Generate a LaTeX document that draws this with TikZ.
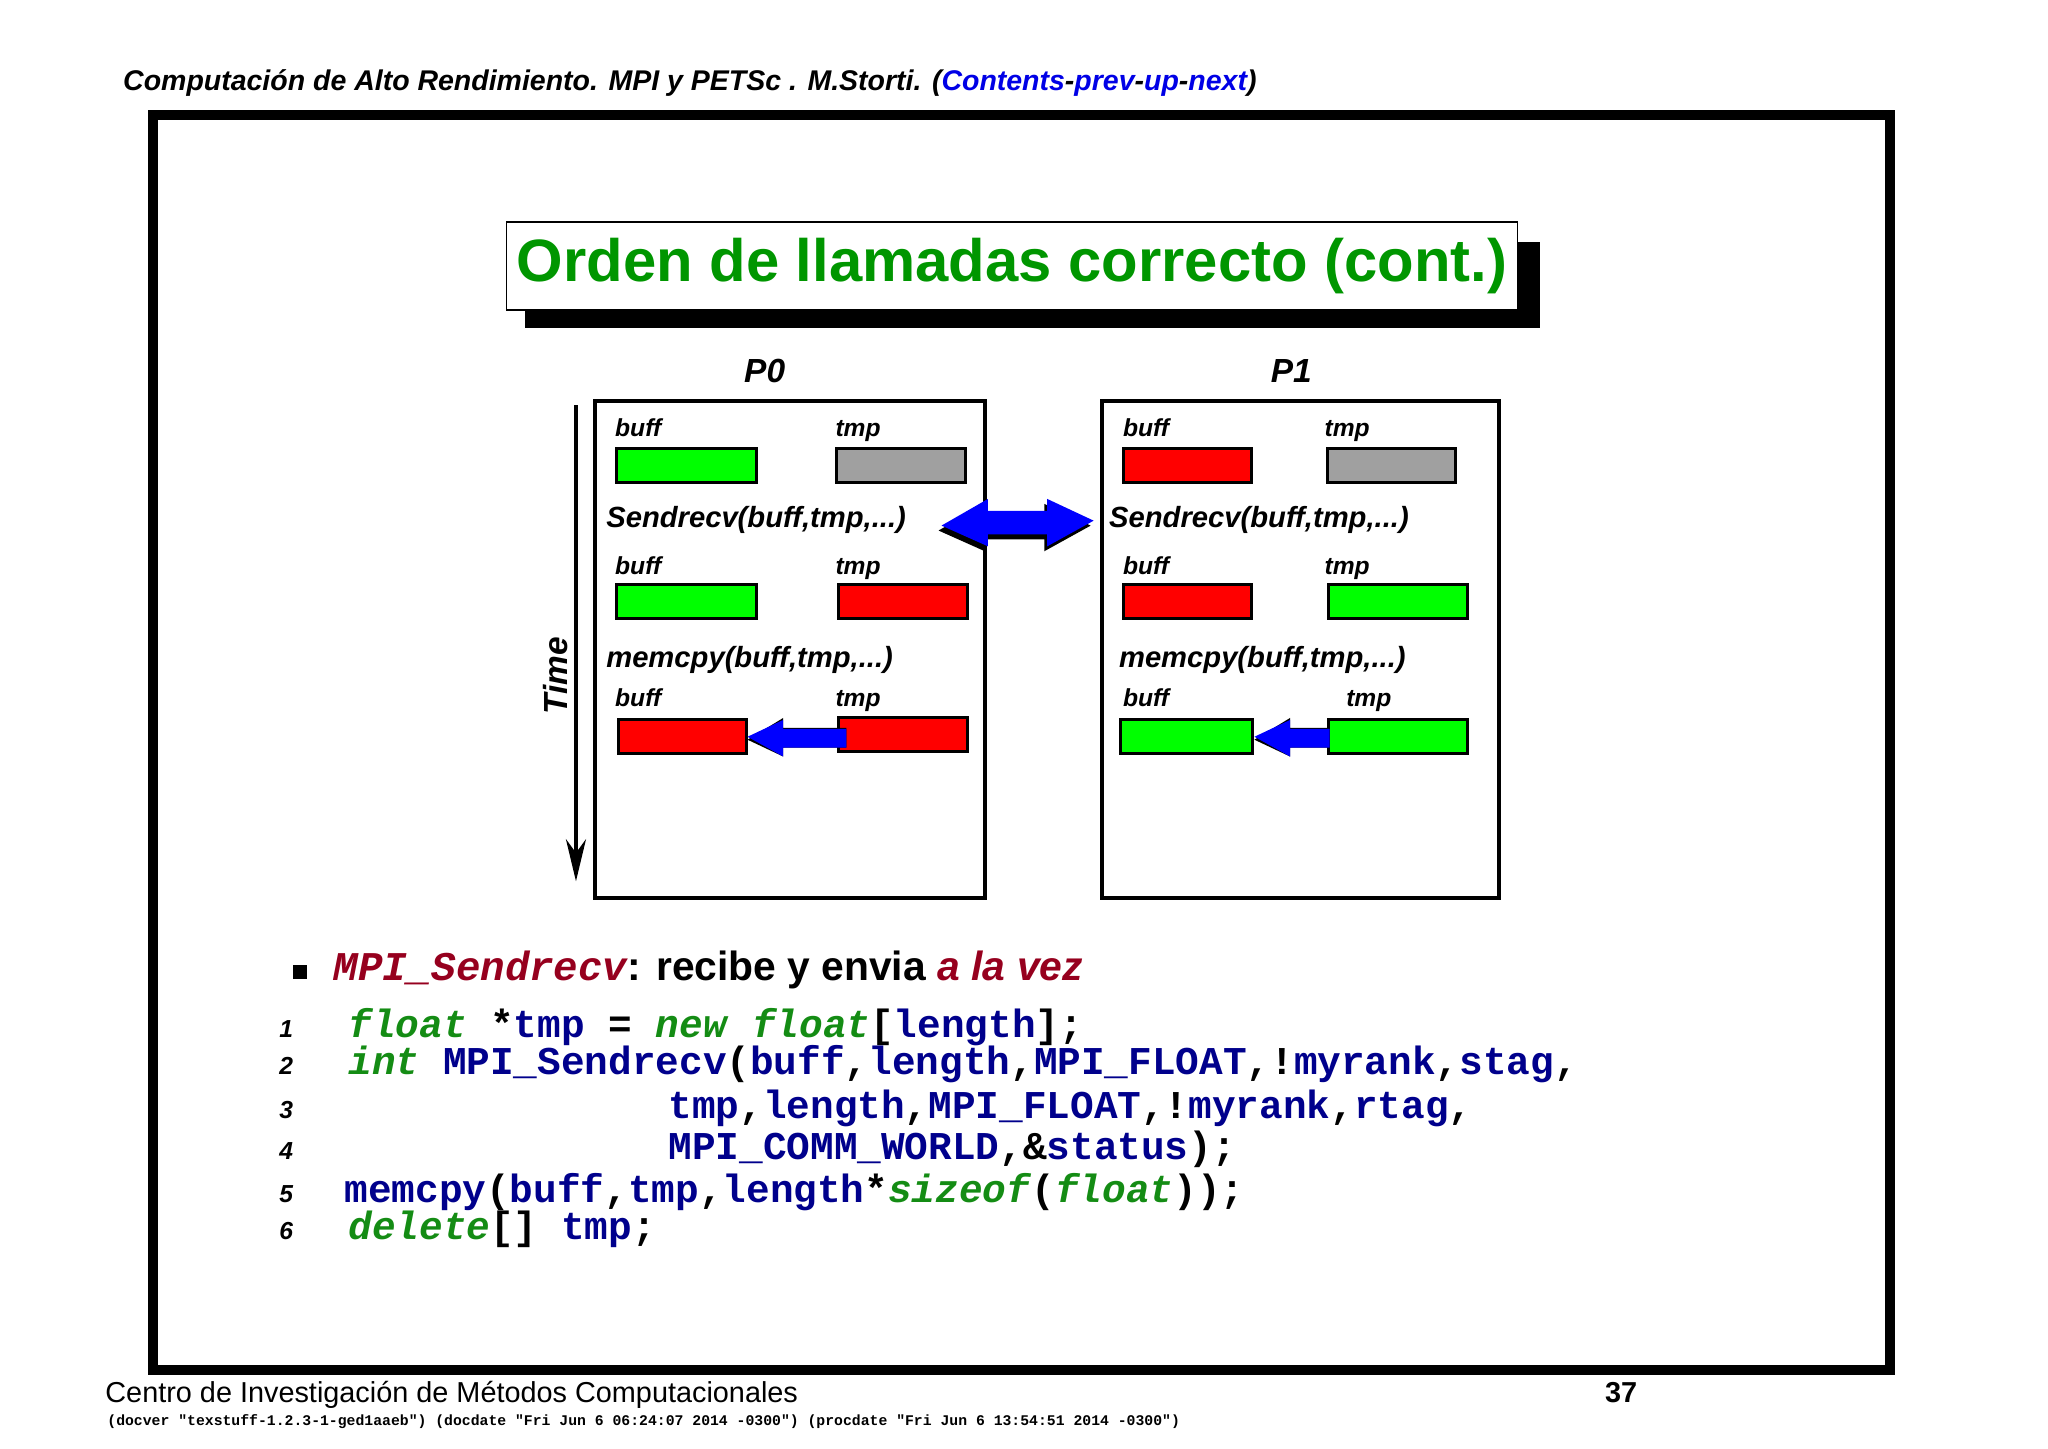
\documentclass[tikz,border=0pt]{standalone}
\usepackage{fontspec}
\setmainfont{Liberation Sans}
\setmonofont{Liberation Mono}
\usetikzlibrary{arrows.meta}
\definecolor{titlegreen}{RGB}{0,150,0}
\definecolor{kwgreen}{RGB}{20,140,20}
\definecolor{idblue}{RGB}{0,0,140}
\definecolor{mpired}{RGB}{150,0,30}
\definecolor{linkblue}{RGB}{0,0,230}
\definecolor{cellgray}{RGB}{160,160,160}
\newcommand{\kw}[1]{\textcolor{kwgreen}{\textit{#1}}}
\newcommand{\idf}[1]{\textcolor{idblue}{#1}}
\tikzset{
  cell/.style={draw=black,line width=0.03cm,minimum height=0.34cm,inner sep=0pt,anchor=north west},
  lbl/.style={font=\fontsize{7}{8}\selectfont\bfseries\itshape,anchor=base west,inner sep=0pt},
  call/.style={font=\fontsize{8.3}{10}\selectfont\bfseries\itshape,anchor=base west,inner sep=0pt},
  code/.style={font=\fontsize{11.2}{13}\selectfont\ttfamily\bfseries,anchor=base west,inner sep=0pt},
  lnum/.style={font=\fontsize{7}{8}\selectfont\bfseries\itshape,anchor=base west,inner sep=0pt},
  proc/.style={draw=black,line width=0.04cm},
  fat/.style={fill=blue},
  fatshadow/.style={fill=black}
}
\begin{document}
\begin{tikzpicture}[x=0.00988cm,y=-0.00988cm]
\useasboundingbox (0,0) rectangle (2073,1466);
% header
\node[anchor=base west,inner sep=0pt,font=\fontsize{8.1}{10}\selectfont\bfseries\itshape] (head) at (124,92)
  {Computación de Alto Rendimiento. MPI y PETSc . M.Storti. (\textcolor{linkblue}{Contents}-\textcolor{linkblue}{prev}-\textcolor{linkblue}{up}-\textcolor{linkblue}{next})};
% frame
\draw[line width=0.1cm] (155,116) rectangle (1913,1387);
% title
\fill (531,245) rectangle (1559,332);
\node[draw,fill=white,line width=0.015cm,minimum width=10.1cm,minimum height=0.88cm,anchor=north west,inner sep=0pt,
  font=\fontsize{17}{20}\selectfont\bfseries,text=titlegreen] (title) at (512,224) {Orden de llamadas correcto (cont.)};
% processes
\node[font=\fontsize{9.5}{11}\selectfont\bfseries\itshape] (p0) at (774,376) {P0};
\node[font=\fontsize{9.5}{11}\selectfont\bfseries\itshape] (p1) at (1307,376) {P1};
\draw[proc] (602,406) rectangle (997,909);
\draw[proc] (1115,406) rectangle (1517,909);
% time
\coordinate (t0) at (583,410);
\coordinate (t1) at (583,892);
\draw[line width=0.04cm,-{Stealth[length=0.42cm,width=0.2cm]}] (t0) -- (t1);
\node[rotate=90,font=\fontsize{9.5}{11}\selectfont\bfseries\itshape] (time) at (562,684) {Time};
% P0 cells
\node[lbl] at (622,442) {buff}; \node[lbl] at (845,442) {tmp};
\node[cell,fill=green,minimum width=1.40cm] (b01) at (622,452) {};
\node[cell,fill=cellgray,minimum width=1.29cm] (t01) at (845,452) {};
\node[call] (s0) at (613,534) {Sendrecv(buff,tmp,...)};
\node[lbl] at (622,581) {buff}; \node[lbl] at (845,581) {tmp};
\node[cell,fill=green,minimum width=1.40cm] (b02) at (622,590) {};
\node[cell,fill=red,minimum width=1.29cm] (t02) at (847,590) {};
\node[call] (m0) at (613,676) {memcpy(buff,tmp,...)};
\node[lbl] at (622,715) {buff}; \node[lbl] at (845,715) {tmp};
\node[cell,fill=red,minimum width=1.27cm] (b03) at (625,727) {};
\node[cell,fill=red,minimum width=1.29cm] (t03) at (847,725) {};
% P1 cells
\node[lbl] at (1136,442) {buff}; \node[lbl] at (1340,442) {tmp};
\node[cell,fill=red,minimum width=1.28cm] (b11) at (1136,452) {};
\node[cell,fill=cellgray,minimum width=1.28cm] (t11) at (1342,452) {};
\node[call] (s1) at (1122,534) {Sendrecv(buff,tmp,...)};
\node[lbl] at (1136,581) {buff}; \node[lbl] at (1340,581) {tmp};
\node[cell,fill=red,minimum width=1.28cm] (b12) at (1136,590) {};
\node[cell,fill=green,minimum width=1.39cm] (t12) at (1343,590) {};
\node[call] (m1) at (1132,676) {memcpy(buff,tmp,...)};
\node[lbl] at (1136,715) {buff}; \node[lbl] at (1362,715) {tmp};
\node[cell,fill=green,minimum width=1.32cm] (b13) at (1133,727) {};
\node[cell,fill=green,minimum width=1.39cm] (t13) at (1343,727) {};
% double arrow
\fill[fatshadow] (950,537) -- (997,510) -- (997,522) -- (1057,522) -- (1057,510) -- (1104,532) -- (1057,558) -- (1057,546) -- (997,546) -- (997,558) -- cycle;
\fill[fat] (953,532) -- (1000,505) -- (1000,517) -- (1060,517) -- (1060,505) -- (1107,527) -- (1060,553) -- (1060,541) -- (1000,541) -- (1000,553) -- cycle;
% memcpy arrows
\fill[fatshadow] (b03.east) ++(0,3) -- ++(36,17) -- ++(0,-9) -- ++(64,0) -- ++(0,-20) -- ++(-64,0) -- ++(0,-10) -- cycle;
\fill[fat] (b03.east) -- ++(36,-17) -- ++(0,9) -- ++(64,0) -- ++(0,19) -- ++(-64,0) -- ++(0,9) -- cycle;
\fill[fatshadow] (b13.east) ++(0,3) -- ++(36,17) -- ++(0,-9) -- ++(40,0) -- ++(0,-20) -- ++(-40,0) -- ++(0,-10) -- cycle;
\fill[fat] (b13.east) -- ++(36,-17) -- ++(0,9) -- ++(40,0) -- ++(0,19) -- ++(-40,0) -- ++(0,9) -- cycle;
% bullet
\fill (297,977) rectangle (311,991);
\node[anchor=base west,inner sep=0pt,font=\fontsize{11.6}{14}\selectfont] (bul) at (337,992)
  {\textcolor{mpired}{\ttfamily\bfseries\itshape MPI\_Sendrecv}\textbf{: recibe y envia} \textcolor{mpired}{\bfseries\itshape a la vez}};
% code
\node[lnum] (n1) at (282,1050) {1};
\node[lnum] (n2) at (282,1088) {2};
\node[lnum] (n3) at (282,1132) {3};
\node[lnum] (n4) at (282,1174) {4};
\node[lnum] (n5) at (282,1217) {5};
\node[lnum] (n6) at (282,1255) {6};
\node[code] (c1) at (352,1050) {\kw{float} *\idf{tmp} = \kw{new} \kw{float}[\idf{length}];};
\node[code] (c2) at (352,1088) {\kw{int} \idf{MPI\_Sendrecv}(\idf{buff},\idf{length},\idf{MPI\_FLOAT},!\idf{myrank},\idf{stag},};
\node[code] (c3) at (676,1132) {\idf{tmp},\idf{length},\idf{MPI\_FLOAT},!\idf{myrank},\idf{rtag},};
\node[code] (c4) at (676,1174) {\idf{MPI\_COMM\_WORLD},\&\idf{status});};
\node[code] (c5) at (348,1217) {\idf{memcpy}(\idf{buff},\idf{tmp},\idf{length}*\kw{sizeof}(\kw{float}));};
\node[code] (c6) at (352,1255) {\kw{delete}[] \idf{tmp};};
% footer
\node[anchor=base west,inner sep=0pt,font=\fontsize{8.2}{10}\selectfont] (foot) at (106,1420) {Centro de Investigación de Métodos Computacionales};
\node[anchor=base west,inner sep=0pt,font=\fontsize{8.2}{10}\selectfont\bfseries] (page) at (1624,1420) {37};
\node[anchor=base west,inner sep=0pt,font=\fontsize{4.2}{5}\selectfont\ttfamily\bfseries] (ver) at (108,1443)
  {(docver "texstuff-1.2.3-1-ged1aaeb") (docdate "Fri Jun 6 06:24:07 2014 -0300") (procdate "Fri Jun 6 13:54:51 2014 -0300")};
\end{tikzpicture}
\end{document}
